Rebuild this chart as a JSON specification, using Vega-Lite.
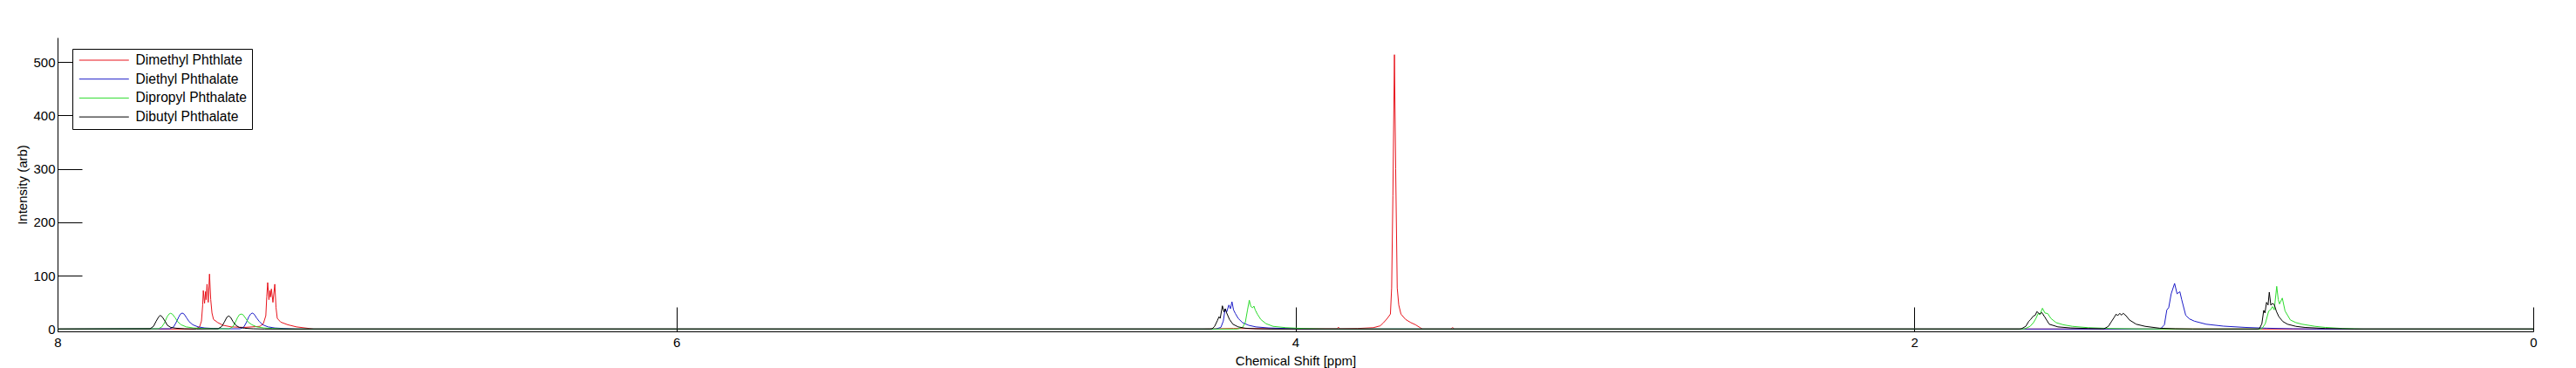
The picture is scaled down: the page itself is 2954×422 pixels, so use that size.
{
"$schema":"https://vega.github.io/schema/vega-lite/v6.json",
"width":2839,"height":337,
"autosize":{"type":"none"},
"padding":{"left":66,"top":43,"right":49,"bottom":42},
"background":"white",
"config":{"view":{"stroke":null},"font":"Liberation Sans",
 "axis":{"grid":false,"domainColor":"#000000","domainWidth":1,"tickColor":"#000000","tickWidth":1,"tickSize":-28,"labelColor":"#000000","labelFontSize":15,"titleFontSize":15,"titleFontWeight":"normal","titleColor":"#000000","labelFont":"Liberation Sans","titleFont":"Liberation Sans"}},
"data":{"values":[
{"c":"Dimethyl Phthlate","x":8,"y":0},{"c":"Dimethyl Phthlate","x":7.56,"y":0},{"c":"Dimethyl Phthlate","x":7.552,"y":1},{"c":"Dimethyl Phthlate","x":7.541,"y":4},{"c":"Dimethyl Phthlate","x":7.535,"y":15},{"c":"Dimethyl Phthlate","x":7.531,"y":45},{"c":"Dimethyl Phthlate","x":7.529,"y":72},{"c":"Dimethyl Phthlate","x":7.525,"y":48},{"c":"Dimethyl Phthlate","x":7.522,"y":70},{"c":"Dimethyl Phthlate","x":7.52,"y":55},{"c":"Dimethyl Phthlate","x":7.517,"y":84},{"c":"Dimethyl Phthlate","x":7.513,"y":50},{"c":"Dimethyl Phthlate","x":7.509,"y":103},{"c":"Dimethyl Phthlate","x":7.505,"y":55},{"c":"Dimethyl Phthlate","x":7.501,"y":30},{"c":"Dimethyl Phthlate","x":7.496,"y":18},{"c":"Dimethyl Phthlate","x":7.482,"y":12},{"c":"Dimethyl Phthlate","x":7.465,"y":7},{"c":"Dimethyl Phthlate","x":7.439,"y":4},{"c":"Dimethyl Phthlate","x":7.397,"y":3},{"c":"Dimethyl Phthlate","x":7.346,"y":5},{"c":"Dimethyl Phthlate","x":7.335,"y":10},{"c":"Dimethyl Phthlate","x":7.327,"y":25},{"c":"Dimethyl Phthlate","x":7.324,"y":60},{"c":"Dimethyl Phthlate","x":7.321,"y":87},{"c":"Dimethyl Phthlate","x":7.317,"y":55},{"c":"Dimethyl Phthlate","x":7.314,"y":72},{"c":"Dimethyl Phthlate","x":7.312,"y":60},{"c":"Dimethyl Phthlate","x":7.309,"y":75},{"c":"Dimethyl Phthlate","x":7.304,"y":50},{"c":"Dimethyl Phthlate","x":7.298,"y":84},{"c":"Dimethyl Phthlate","x":7.294,"y":40},{"c":"Dimethyl Phthlate","x":7.29,"y":20},{"c":"Dimethyl Phthlate","x":7.279,"y":13},{"c":"Dimethyl Phthlate","x":7.256,"y":8},{"c":"Dimethyl Phthlate","x":7.228,"y":4},{"c":"Dimethyl Phthlate","x":7.186,"y":1},{"c":"Dimethyl Phthlate","x":7.172,"y":0},{"c":"Dimethyl Phthlate","x":4.3,"y":0},{"c":"Dimethyl Phthlate","x":4.2,"y":1},{"c":"Dimethyl Phthlate","x":4.0,"y":0.5},{"c":"Dimethyl Phthlate","x":3.903,"y":0.5},{"c":"Dimethyl Phthlate","x":3.865,"y":0.5},{"c":"Dimethyl Phthlate","x":3.861,"y":3.5},{"c":"Dimethyl Phthlate","x":3.857,"y":0.5},{"c":"Dimethyl Phthlate","x":3.8,"y":1},{"c":"Dimethyl Phthlate","x":3.748,"y":2.5},{"c":"Dimethyl Phthlate","x":3.726,"y":6},{"c":"Dimethyl Phthlate","x":3.715,"y":12},{"c":"Dimethyl Phthlate","x":3.703,"y":20},{"c":"Dimethyl Phthlate","x":3.693,"y":28},{"c":"Dimethyl Phthlate","x":3.689,"y":77},{"c":"Dimethyl Phthlate","x":3.685,"y":250},{"c":"Dimethyl Phthlate","x":3.68,"y":514},{"c":"Dimethyl Phthlate","x":3.676,"y":300},{"c":"Dimethyl Phthlate","x":3.671,"y":77},{"c":"Dimethyl Phthlate","x":3.666,"y":45},{"c":"Dimethyl Phthlate","x":3.659,"y":28},{"c":"Dimethyl Phthlate","x":3.644,"y":18},{"c":"Dimethyl Phthlate","x":3.627,"y":12},{"c":"Dimethyl Phthlate","x":3.612,"y":8},{"c":"Dimethyl Phthlate","x":3.598,"y":3},{"c":"Dimethyl Phthlate","x":3.59,"y":0},{"c":"Dimethyl Phthlate","x":3.497,"y":0},{"c":"Dimethyl Phthlate","x":3.492,"y":3},{"c":"Dimethyl Phthlate","x":3.487,"y":0},{"c":"Dimethyl Phthlate","x":0,"y":0},
{"c":"Diethyl Phthalate","x":8,"y":0},{"c":"Diethyl Phthalate","x":7.637,"y":0.5},{"c":"Diethyl Phthalate","x":7.625,"y":4},{"c":"Diethyl Phthalate","x":7.617,"y":12},{"c":"Diethyl Phthalate","x":7.608,"y":23},{"c":"Diethyl Phthalate","x":7.603,"y":28},{"c":"Diethyl Phthalate","x":7.597,"y":30},{"c":"Diethyl Phthalate","x":7.591,"y":28},{"c":"Diethyl Phthalate","x":7.583,"y":21},{"c":"Diethyl Phthalate","x":7.575,"y":14},{"c":"Diethyl Phthalate","x":7.563,"y":8},{"c":"Diethyl Phthalate","x":7.546,"y":4},{"c":"Diethyl Phthalate","x":7.524,"y":2},{"c":"Diethyl Phthalate","x":7.496,"y":1},{"c":"Diethyl Phthalate","x":7.45,"y":0.5},{"c":"Diethyl Phthalate","x":7.41,"y":0.5},{"c":"Diethyl Phthalate","x":7.398,"y":4},{"c":"Diethyl Phthalate","x":7.39,"y":12},{"c":"Diethyl Phthalate","x":7.382,"y":23},{"c":"Diethyl Phthalate","x":7.376,"y":28},{"c":"Diethyl Phthalate","x":7.371,"y":30},{"c":"Diethyl Phthalate","x":7.365,"y":28},{"c":"Diethyl Phthalate","x":7.357,"y":21},{"c":"Diethyl Phthalate","x":7.348,"y":14},{"c":"Diethyl Phthalate","x":7.337,"y":8},{"c":"Diethyl Phthalate","x":7.32,"y":4},{"c":"Diethyl Phthalate","x":7.298,"y":2},{"c":"Diethyl Phthalate","x":7.27,"y":1},{"c":"Diethyl Phthalate","x":7.228,"y":0},{"c":"Diethyl Phthalate","x":4.26,"y":0},{"c":"Diethyl Phthalate","x":4.255,"y":0.5},{"c":"Diethyl Phthalate","x":4.241,"y":3},{"c":"Diethyl Phthalate","x":4.233,"y":15},{"c":"Diethyl Phthalate","x":4.227,"y":38},{"c":"Diethyl Phthalate","x":4.222,"y":32},{"c":"Diethyl Phthalate","x":4.215,"y":45},{"c":"Diethyl Phthalate","x":4.21,"y":38},{"c":"Diethyl Phthalate","x":4.205,"y":51},{"c":"Diethyl Phthalate","x":4.2,"y":36},{"c":"Diethyl Phthalate","x":4.194,"y":29},{"c":"Diethyl Phthalate","x":4.185,"y":20},{"c":"Diethyl Phthalate","x":4.171,"y":12},{"c":"Diethyl Phthalate","x":4.151,"y":7},{"c":"Diethyl Phthalate","x":4.128,"y":4},{"c":"Diethyl Phthalate","x":4.086,"y":2},{"c":"Diethyl Phthalate","x":4.03,"y":1},{"c":"Diethyl Phthalate","x":3.959,"y":0},{"c":"Diethyl Phthalate","x":1.21,"y":0},{"c":"Diethyl Phthalate","x":1.204,"y":0.5},{"c":"Diethyl Phthalate","x":1.192,"y":8},{"c":"Diethyl Phthalate","x":1.184,"y":36},{"c":"Diethyl Phthalate","x":1.178,"y":40},{"c":"Diethyl Phthalate","x":1.17,"y":66},{"c":"Diethyl Phthalate","x":1.159,"y":85.5},{"c":"Diethyl Phthalate","x":1.151,"y":66},{"c":"Diethyl Phthalate","x":1.142,"y":70},{"c":"Diethyl Phthalate","x":1.136,"y":55},{"c":"Diethyl Phthalate","x":1.123,"y":25.5},{"c":"Diethyl Phthalate","x":1.111,"y":19},{"c":"Diethyl Phthalate","x":1.095,"y":14.7},{"c":"Diethyl Phthalate","x":1.057,"y":9},{"c":"Diethyl Phthalate","x":1.001,"y":5.4},{"c":"Diethyl Phthalate","x":0.93,"y":3},{"c":"Diethyl Phthalate","x":0.86,"y":1.5},{"c":"Diethyl Phthalate","x":0.776,"y":0.5},{"c":"Diethyl Phthalate","x":0.7,"y":0},{"c":"Diethyl Phthalate","x":0,"y":0},
{"c":"Dipropyl Phthalate","x":8,"y":0},{"c":"Dipropyl Phthalate","x":7.674,"y":0.5},{"c":"Dipropyl Phthalate","x":7.663,"y":4},{"c":"Dipropyl Phthalate","x":7.654,"y":12},{"c":"Dipropyl Phthalate","x":7.646,"y":23},{"c":"Dipropyl Phthalate","x":7.64,"y":28},{"c":"Dipropyl Phthalate","x":7.635,"y":29.5},{"c":"Dipropyl Phthalate","x":7.629,"y":28},{"c":"Dipropyl Phthalate","x":7.62,"y":21},{"c":"Dipropyl Phthalate","x":7.612,"y":14},{"c":"Dipropyl Phthalate","x":7.601,"y":8},{"c":"Dipropyl Phthalate","x":7.584,"y":4},{"c":"Dipropyl Phthalate","x":7.561,"y":2},{"c":"Dipropyl Phthalate","x":7.533,"y":1},{"c":"Dipropyl Phthalate","x":7.49,"y":0.5},{"c":"Dipropyl Phthalate","x":7.446,"y":0.5},{"c":"Dipropyl Phthalate","x":7.434,"y":4},{"c":"Dipropyl Phthalate","x":7.426,"y":12},{"c":"Dipropyl Phthalate","x":7.418,"y":22},{"c":"Dipropyl Phthalate","x":7.412,"y":27},{"c":"Dipropyl Phthalate","x":7.406,"y":28},{"c":"Dipropyl Phthalate","x":7.401,"y":27},{"c":"Dipropyl Phthalate","x":7.392,"y":20},{"c":"Dipropyl Phthalate","x":7.384,"y":13},{"c":"Dipropyl Phthalate","x":7.372,"y":8},{"c":"Dipropyl Phthalate","x":7.356,"y":4},{"c":"Dipropyl Phthalate","x":7.333,"y":2},{"c":"Dipropyl Phthalate","x":7.305,"y":1},{"c":"Dipropyl Phthalate","x":7.26,"y":0},{"c":"Dipropyl Phthalate","x":4.19,"y":0},{"c":"Dipropyl Phthalate","x":4.185,"y":0.5},{"c":"Dipropyl Phthalate","x":4.171,"y":3},{"c":"Dipropyl Phthalate","x":4.162,"y":12},{"c":"Dipropyl Phthalate","x":4.155,"y":35},{"c":"Dipropyl Phthalate","x":4.149,"y":54},{"c":"Dipropyl Phthalate","x":4.144,"y":42},{"c":"Dipropyl Phthalate","x":4.138,"y":40},{"c":"Dipropyl Phthalate","x":4.134,"y":43},{"c":"Dipropyl Phthalate","x":4.13,"y":36},{"c":"Dipropyl Phthalate","x":4.123,"y":28},{"c":"Dipropyl Phthalate","x":4.112,"y":18},{"c":"Dipropyl Phthalate","x":4.095,"y":10},{"c":"Dipropyl Phthalate","x":4.072,"y":5},{"c":"Dipropyl Phthalate","x":4.03,"y":2.5},{"c":"Dipropyl Phthalate","x":3.974,"y":1},{"c":"Dipropyl Phthalate","x":3.903,"y":0},{"c":"Dipropyl Phthalate","x":1.65,"y":0},{"c":"Dipropyl Phthalate","x":1.643,"y":0.5},{"c":"Dipropyl Phthalate","x":1.626,"y":5},{"c":"Dipropyl Phthalate","x":1.615,"y":12},{"c":"Dipropyl Phthalate","x":1.607,"y":20},{"c":"Dipropyl Phthalate","x":1.6,"y":29},{"c":"Dipropyl Phthalate","x":1.594,"y":27},{"c":"Dipropyl Phthalate","x":1.586,"y":39},{"c":"Dipropyl Phthalate","x":1.578,"y":30},{"c":"Dipropyl Phthalate","x":1.569,"y":29},{"c":"Dipropyl Phthalate","x":1.559,"y":20},{"c":"Dipropyl Phthalate","x":1.542,"y":12},{"c":"Dipropyl Phthalate","x":1.519,"y":8},{"c":"Dipropyl Phthalate","x":1.489,"y":5},{"c":"Dipropyl Phthalate","x":1.438,"y":2.5},{"c":"Dipropyl Phthalate","x":1.367,"y":1},{"c":"Dipropyl Phthalate","x":1.283,"y":0.3},{"c":"Dipropyl Phthalate","x":1.2,"y":0},{"c":"Dipropyl Phthalate","x":0.88,"y":0},{"c":"Dipropyl Phthalate","x":0.877,"y":0.5},{"c":"Dipropyl Phthalate","x":0.866,"y":10},{"c":"Dipropyl Phthalate","x":0.855,"y":33.7},{"c":"Dipropyl Phthalate","x":0.849,"y":36},{"c":"Dipropyl Phthalate","x":0.843,"y":42},{"c":"Dipropyl Phthalate","x":0.837,"y":36},{"c":"Dipropyl Phthalate","x":0.829,"y":80},{"c":"Dipropyl Phthalate","x":0.824,"y":55},{"c":"Dipropyl Phthalate","x":0.82,"y":47},{"c":"Dipropyl Phthalate","x":0.811,"y":58},{"c":"Dipropyl Phthalate","x":0.802,"y":33.7},{"c":"Dipropyl Phthalate","x":0.785,"y":17},{"c":"Dipropyl Phthalate","x":0.767,"y":12},{"c":"Dipropyl Phthalate","x":0.747,"y":9},{"c":"Dipropyl Phthalate","x":0.705,"y":5},{"c":"Dipropyl Phthalate","x":0.672,"y":3},{"c":"Dipropyl Phthalate","x":0.616,"y":1},{"c":"Dipropyl Phthalate","x":0.55,"y":0},{"c":"Dipropyl Phthalate","x":0,"y":0},
{"c":"Dibutyl Phthalate","x":8,"y":0},{"c":"Dibutyl Phthalate","x":7.701,"y":0.5},{"c":"Dibutyl Phthalate","x":7.69,"y":5},{"c":"Dibutyl Phthalate","x":7.682,"y":14},{"c":"Dibutyl Phthalate","x":7.673,"y":23},{"c":"Dibutyl Phthalate","x":7.668,"y":25.5},{"c":"Dibutyl Phthalate","x":7.662,"y":23},{"c":"Dibutyl Phthalate","x":7.653,"y":15},{"c":"Dibutyl Phthalate","x":7.645,"y":7},{"c":"Dibutyl Phthalate","x":7.634,"y":3},{"c":"Dibutyl Phthalate","x":7.617,"y":1.5},{"c":"Dibutyl Phthalate","x":7.589,"y":0.5},{"c":"Dibutyl Phthalate","x":7.55,"y":0},{"c":"Dibutyl Phthalate","x":7.481,"y":0.5},{"c":"Dibutyl Phthalate","x":7.469,"y":5},{"c":"Dibutyl Phthalate","x":7.461,"y":13},{"c":"Dibutyl Phthalate","x":7.453,"y":22},{"c":"Dibutyl Phthalate","x":7.447,"y":24.5},{"c":"Dibutyl Phthalate","x":7.441,"y":22},{"c":"Dibutyl Phthalate","x":7.433,"y":14},{"c":"Dibutyl Phthalate","x":7.424,"y":7},{"c":"Dibutyl Phthalate","x":7.413,"y":3},{"c":"Dibutyl Phthalate","x":7.396,"y":1.5},{"c":"Dibutyl Phthalate","x":7.368,"y":0.5},{"c":"Dibutyl Phthalate","x":7.33,"y":0},{"c":"Dibutyl Phthalate","x":4.275,"y":0},{"c":"Dibutyl Phthalate","x":4.269,"y":0.5},{"c":"Dibutyl Phthalate","x":4.261,"y":5},{"c":"Dibutyl Phthalate","x":4.252,"y":16},{"c":"Dibutyl Phthalate","x":4.247,"y":23},{"c":"Dibutyl Phthalate","x":4.243,"y":20},{"c":"Dibutyl Phthalate","x":4.236,"y":43.5},{"c":"Dibutyl Phthalate","x":4.231,"y":32},{"c":"Dibutyl Phthalate","x":4.227,"y":38},{"c":"Dibutyl Phthalate","x":4.222,"y":30},{"c":"Dibutyl Phthalate","x":4.213,"y":18},{"c":"Dibutyl Phthalate","x":4.202,"y":9},{"c":"Dibutyl Phthalate","x":4.185,"y":4},{"c":"Dibutyl Phthalate","x":4.162,"y":1.5},{"c":"Dibutyl Phthalate","x":4.128,"y":0.5},{"c":"Dibutyl Phthalate","x":4.08,"y":0},{"c":"Dibutyl Phthalate","x":1.66,"y":0},{"c":"Dibutyl Phthalate","x":1.654,"y":0.5},{"c":"Dibutyl Phthalate","x":1.64,"y":5},{"c":"Dibutyl Phthalate","x":1.63,"y":14.7},{"c":"Dibutyl Phthalate","x":1.624,"y":18},{"c":"Dibutyl Phthalate","x":1.616,"y":24},{"c":"Dibutyl Phthalate","x":1.609,"y":26},{"c":"Dibutyl Phthalate","x":1.604,"y":32.7},{"c":"Dibutyl Phthalate","x":1.595,"y":28},{"c":"Dibutyl Phthalate","x":1.588,"y":31},{"c":"Dibutyl Phthalate","x":1.578,"y":22},{"c":"Dibutyl Phthalate","x":1.564,"y":9},{"c":"Dibutyl Phthalate","x":1.536,"y":4},{"c":"Dibutyl Phthalate","x":1.494,"y":2},{"c":"Dibutyl Phthalate","x":1.438,"y":1},{"c":"Dibutyl Phthalate","x":1.393,"y":0.5},{"c":"Dibutyl Phthalate","x":1.387,"y":0.5},{"c":"Dibutyl Phthalate","x":1.373,"y":5},{"c":"Dibutyl Phthalate","x":1.362,"y":15},{"c":"Dibutyl Phthalate","x":1.354,"y":22},{"c":"Dibutyl Phthalate","x":1.348,"y":28},{"c":"Dibutyl Phthalate","x":1.343,"y":25},{"c":"Dibutyl Phthalate","x":1.336,"y":29.4},{"c":"Dibutyl Phthalate","x":1.331,"y":26},{"c":"Dibutyl Phthalate","x":1.325,"y":29.4},{"c":"Dibutyl Phthalate","x":1.316,"y":25},{"c":"Dibutyl Phthalate","x":1.305,"y":17},{"c":"Dibutyl Phthalate","x":1.283,"y":9},{"c":"Dibutyl Phthalate","x":1.254,"y":5},{"c":"Dibutyl Phthalate","x":1.207,"y":1.5},{"c":"Dibutyl Phthalate","x":1.156,"y":0.5},{"c":"Dibutyl Phthalate","x":1.1,"y":0},{"c":"Dibutyl Phthalate","x":0.89,"y":0},{"c":"Dibutyl Phthalate","x":0.885,"y":0.5},{"c":"Dibutyl Phthalate","x":0.877,"y":10},{"c":"Dibutyl Phthalate","x":0.871,"y":35},{"c":"Dibutyl Phthalate","x":0.867,"y":30},{"c":"Dibutyl Phthalate","x":0.862,"y":50},{"c":"Dibutyl Phthalate","x":0.857,"y":45},{"c":"Dibutyl Phthalate","x":0.853,"y":69},{"c":"Dibutyl Phthalate","x":0.848,"y":44.6},{"c":"Dibutyl Phthalate","x":0.843,"y":48},{"c":"Dibutyl Phthalate","x":0.837,"y":45.7},{"c":"Dibutyl Phthalate","x":0.83,"y":33},{"c":"Dibutyl Phthalate","x":0.822,"y":23},{"c":"Dibutyl Phthalate","x":0.809,"y":14},{"c":"Dibutyl Phthalate","x":0.794,"y":9},{"c":"Dibutyl Phthalate","x":0.767,"y":5},{"c":"Dibutyl Phthalate","x":0.738,"y":3},{"c":"Dibutyl Phthalate","x":0.672,"y":1},{"c":"Dibutyl Phthalate","x":0.578,"y":0},{"c":"Dibutyl Phthalate","x":0,"y":0}
]},
"mark":{"type":"line","strokeWidth":1,"clip":true},
"encoding":{
 "x":{"field":"x","type":"quantitative","scale":{"domain":[0,8],"reverse":true,"nice":false,"zero":false},
  "axis":{"values":[0,2,4,6,8],"format":"d","title":"Chemical Shift [ppm]","labelPadding":33,"titlePadding":6,"labelFlush":false}},
 "y":{"field":"y","type":"quantitative","scale":{"domain":[-4.4,546.2],"nice":false,"zero":false},
  "axis":{"values":[0,100,200,300,400,500],"format":"d","title":"Intensity (arb)","labelPadding":31,"titlePadding":4,"labelFlush":false}},
 "color":{"field":"c","type":"nominal",
  "scale":{"domain":["Dimethyl Phthlate","Diethyl Phthalate","Dipropyl Phthalate","Dibutyl Phthalate"],"range":["#e8141c","#1c1cc8","#2edc2e","#000000"]},
  "sort":["Dimethyl Phthlate","Diethyl Phthalate","Dipropyl Phthalate","Dibutyl Phthalate"],
  "legend":{"orient":"none","legendX":17,"legendY":13,"title":null,"symbolType":"M-1,0H7.143","symbolSize":196,"symbolStrokeWidth":1,"symbolOffset":1.8,"labelFontSize":15.6,"labelColor":"#000000","labelFont":"Liberation Sans","labelOffset":50,"rowPadding":4.7,"padding":5.2,"strokeColor":"#000000","fillColor":"#ffffff","cornerRadius":0}}
}
}
